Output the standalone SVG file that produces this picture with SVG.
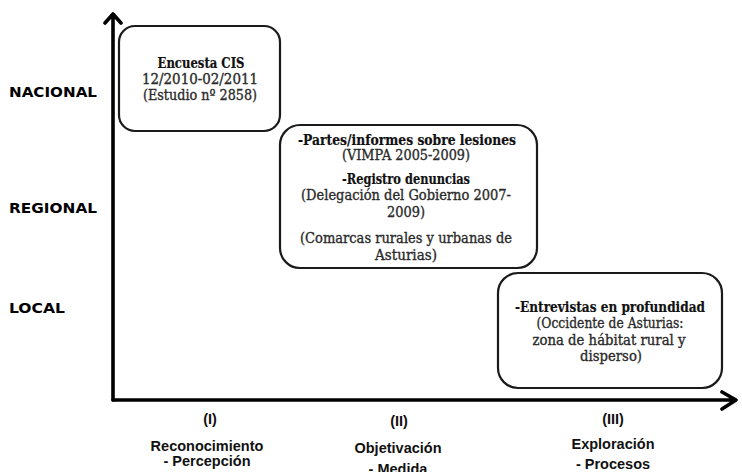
<svg xmlns="http://www.w3.org/2000/svg" width="742" height="472" viewBox="0 0 742 472">
<style>
.box{fill:#fff;stroke:#1a1a1a;stroke-width:2.2}
.t{font-family:"DejaVu Serif","Liberation Serif",serif;font-size:14px;fill:#2a2a2a;stroke:#2a2a2a;stroke-width:0.35;text-anchor:middle}
.b{font-weight:bold;fill:#111;stroke:#111;stroke-width:0.2}
.lvl{font-family:"DejaVu Sans","Liberation Sans",sans-serif;font-weight:bold;font-size:14.5px;fill:#000}
.ax{font-family:"Liberation Sans",Arial,sans-serif;font-weight:bold;font-size:14.5px;fill:#111;text-anchor:middle}
.axis{fill:none;stroke:#000;stroke-width:3.6;stroke-linecap:round;stroke-linejoin:round}
</style>
<rect width="742" height="472" fill="#fff"/>
<g id="connectors">
<path class="axis" d="M113,400 V14 M105,23 L113,14 L121,23"/>
<path class="axis" d="M113,400 H736 M722,392 L736,400 L722,409"/>
</g>
<g id="labels-y">
<text class="lvl" x="9" y="97" textLength="88" lengthAdjust="spacingAndGlyphs">NACIONAL</text>
<text class="lvl" x="9" y="213" textLength="88" lengthAdjust="spacingAndGlyphs">REGIONAL</text>
<text class="lvl" x="9" y="313" textLength="56" lengthAdjust="spacingAndGlyphs">LOCAL</text>
</g>
<g id="node-nacional">
<rect class="box" x="119" y="26" width="161" height="105" rx="16"/>
<text class="t b" x="201" y="68" textLength="87" lengthAdjust="spacingAndGlyphs">Encuesta CIS</text>
<text class="t" x="200" y="84" textLength="116" lengthAdjust="spacingAndGlyphs">12/2010-02/2011</text>
<text class="t" x="200" y="100" textLength="114" lengthAdjust="spacingAndGlyphs">(Estudio nº 2858)</text>
</g>
<g id="node-regional">
<rect class="box" x="280" y="125" width="257" height="143" rx="20"/>
<text class="t b" x="407" y="145" textLength="218" lengthAdjust="spacingAndGlyphs">-Partes/informes sobre lesiones</text>
<text class="t" x="406" y="160" textLength="128" lengthAdjust="spacingAndGlyphs">(VIMPA 2005-2009)</text>
<text class="t b" x="406" y="184" textLength="128" lengthAdjust="spacingAndGlyphs">-Registro denuncias</text>
<text class="t" x="406" y="200" textLength="210" lengthAdjust="spacingAndGlyphs">(Delegación del Gobierno 2007-</text>
<text class="t" x="406" y="217" textLength="38" lengthAdjust="spacingAndGlyphs">2009)</text>
<text class="t" x="406" y="243" textLength="212" lengthAdjust="spacingAndGlyphs">(Comarcas rurales y urbanas de</text>
<text class="t" x="406" y="260" textLength="62" lengthAdjust="spacingAndGlyphs">Asturias)</text>
</g>
<g id="node-local">
<rect class="box" x="498" y="273" width="224" height="115" rx="20"/>
<text class="t b" x="610" y="312" textLength="190" lengthAdjust="spacingAndGlyphs">-Entrevistas en profundidad</text>
<text class="t" x="610" y="328" textLength="147" lengthAdjust="spacingAndGlyphs">(Occidente de Asturias:</text>
<text class="t" x="609" y="345" textLength="153" lengthAdjust="spacingAndGlyphs">zona de hábitat rural y</text>
<text class="t" x="611" y="361" textLength="62" lengthAdjust="spacingAndGlyphs">disperso)</text>
</g>
<g id="labels-x">
<text class="ax" x="210" y="424">(I)</text>
<text class="ax" x="207" y="451">Reconocimiento</text>
<text class="ax" x="207" y="466">- Percepción</text>
<text class="ax" x="399" y="426">(II)</text>
<text class="ax" x="398" y="453">Objetivación</text>
<text class="ax" x="398" y="474">- Medida</text>
<text class="ax" x="613" y="424">(III)</text>
<text class="ax" x="613" y="449">Exploración</text>
<text class="ax" x="613" y="469">- Procesos</text>
</g>
</svg>
